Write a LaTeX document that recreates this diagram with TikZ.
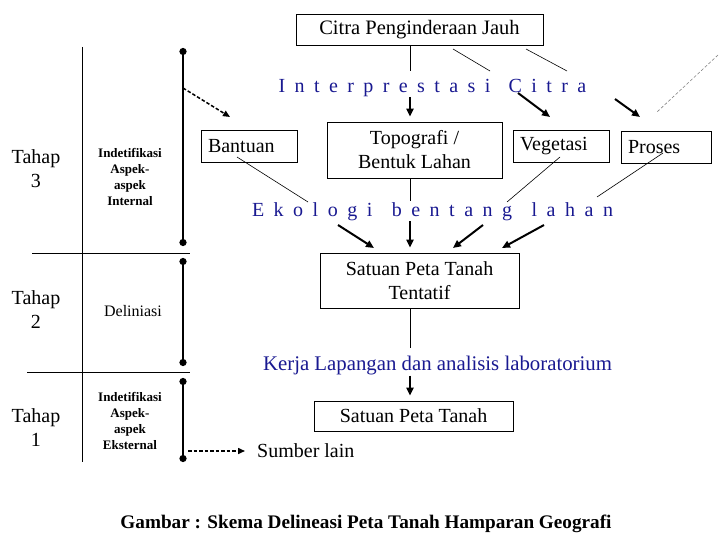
\documentclass[tikz,border=0pt]{standalone}
\usepackage{fontspec}
\setmainfont{Liberation Serif}
\usepackage{xcolor}
\usetikzlibrary{arrows.meta,positioning,calc}
\definecolor{skyink}{RGB}{25,25,145}

\begin{document}
\begin{tikzpicture}[
  x=1pt, y=-1pt,
  font=\fontsize{20}{24}\selectfont,
  box/.style={draw, line width=0.8pt, align=center, inner sep=0pt},
  tag/.style={box, align=left, inner xsep=7pt, minimum height=32pt},
  spaced/.style={text=skyink, inner sep=0pt},
  colnote/.style={align=center, inner sep=0pt, font=\fontsize{13}{16}\selectfont\bfseries},
  arr/.style={-{Triangle[length=8pt,width=7pt]}, line width=2pt},
  darr/.style={-{Triangle[length=7pt,width=6pt]}, line width=1.5pt, dash pattern=on 3.5pt off 2pt},
  link/.style={line width=0.6pt},
  rule/.style={line width=0.9pt},
  bar/.style={line width=2.6pt, {Circle[length=7pt]}-{Circle[length=7pt]}},
]
\path[use as bounding box, fill=white] (0,0) rectangle (720,540);

\node[box, minimum width=247pt, minimum height=31pt, font=\fontsize{20.5}{24}\selectfont] (citra) at (419.5,29.5) {Citra Penginderaan Jauh};
\node[spaced] (interp) at (432.5,88) {\spaceskip=9.4pt I n t e r p r e s t a s i \hskip 9pt C i t r a};
\node[tag, text width=82pt] (bantuan) at (249,146.5) {Bantuan};
\node[box, minimum width=175pt, minimum height=56pt] (topo) at (414.5,150) {Topografi /\\Bentuk Lahan};
\node[tag, text width=82pt] (veget) at (561,146) {Vegetasi};
\node[tag, text width=76pt] (proses) at (666,147.5) {Proses};
\node[spaced] (ekologi) at (432.5,212) {\spaceskip=9.5pt E k o l o g i \hskip 10pt b e n t a n g \hskip 10pt l a h a n};
\node[box, minimum width=199pt, minimum height=55pt] (tentatif) at (419.5,280.5) {Satuan Peta Tanah\\Tentatif};
\node[spaced, font=\fontsize{20.8}{24}\selectfont] (kerja) at (437.5,366) {Kerja Lapangan dan analisis laboratorium};
\node[box, minimum width=199pt, minimum height=30pt] (satuan) at (413.5,416) {Satuan Peta Tanah};
\node[anchor=west, inner sep=0pt] (sumber) at (257,451) {Sumber lain};
\node[inner sep=0pt, font=\fontsize{19.2}{24}\selectfont\bfseries] (caption) at (366,524) {Gambar : Skema Delineasi Peta Tanah Hamparan Geografi};

\node[align=center, inner sep=0pt] (tahap3) at (36,169) {Tahap\\3};
\node[align=center, inner sep=0pt] (tahap2) at (36,310) {Tahap\\2};
\node[align=center, inner sep=0pt] (tahap1) at (36,428) {Tahap\\1};
\node[colnote] (internal) at (130,177) {Indetifikasi\\Aspek-\\aspek\\Internal};
\node[colnote, font=\fontsize{16}{19}\selectfont] (delin) at (133,311) {Deliniasi};
\node[colnote] (eksternal) at (130,421) {Indetifikasi\\Aspek-\\aspek\\Eksternal};

\draw[rule] (82,47) -- (82,462);
\draw[rule] (32,253) -- (190,253);
\draw[rule] (27,372) -- (190,372);

\coordinate (bar3a) at (183,48);
\coordinate (bar3b) at (183,246);
\coordinate (bar2a) at (183,258);
\coordinate (bar2b) at (183,366);
\coordinate (bar1a) at (183,378);
\coordinate (bar1b) at (183,462);
\coordinate (bar3m) at (183,88);
\coordinate (bar1m) at (188,451);
\draw[bar] (bar3a) -- (bar3b);
\draw[bar] (bar2a) -- (bar2b);
\draw[bar] (bar1a) -- (bar1b);

\coordinate (spine) at (410,0);
\coordinate (cit2) at (453,49);
\coordinate (int2) at (490,71);
\coordinate (cit3) at (526,49);
\coordinate (int3) at (567,71);
\coordinate (far) at (718,55);
\coordinate (farend) at (657,112);
\coordinate (int4) at (518,93);
\coordinate (veg-in) at (550,117);
\coordinate (int5) at (615,99);
\coordinate (pro-in) at (640,117);
\coordinate (ban-in) at (230,117);

\draw[link] (citra.south -| spine) -- (interp.north -| spine) [shorten >=8pt];
\draw[link] (cit2) -- (int2);
\draw[link] (cit3) -- (int3);
\draw[link, densely dashed, gray] (far) -- (farend);
\draw[arr, shorten >=5pt] (interp.south -| spine) -- (topo.north -| spine);
\draw[arr] (int4) -- (veg-in);
\draw[arr] (int5) -- (pro-in);
\draw[darr] (bar3m) -- (ban-in);

\coordinate (ban-out) at (237,157);
\coordinate (eko1) at (308,202);
\coordinate (veg-out) at (560,157);
\coordinate (eko3) at (507,202);
\coordinate (pro-out) at (663,153);
\coordinate (eko4) at (597,197);
\draw[link] (ban-out) -- (eko1);
\draw[link] (topo.south -| spine) -- (ekologi.north -| spine) [shorten >=2pt];
\draw[link] (veg-out) -- (eko3);
\draw[link] (pro-out) -- (eko4);

\coordinate (eko5) at (338,225);
\coordinate (ten1) at (374,248);
\coordinate (eko6) at (483,225);
\coordinate (ten3) at (453,248);
\coordinate (eko7) at (544,225);
\coordinate (ten4) at (502,248);
\draw[arr] (eko5) -- (ten1);
\draw[arr, shorten >=5pt] (ekologi.south -| spine) -- (tentatif.north -| spine);
\draw[arr] (eko6) -- (ten3);
\draw[arr] (eko7) -- (ten4);

\draw[link, shorten >=8pt] (tentatif.south -| spine) -- (kerja.north -| spine);
\draw[arr, shorten >=5pt] (kerja.south -| spine) -- (satuan.north -| spine);
\draw[darr, shorten >=12pt] (bar1m) -- (sumber.west);
\end{tikzpicture}
\end{document}
